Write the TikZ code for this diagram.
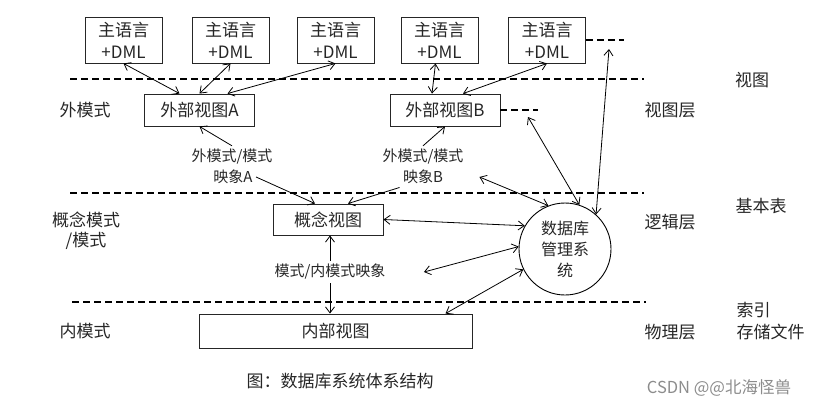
\documentclass[tikz,border=0pt]{standalone}
\usepackage{fontspec}
\setmainfont{Noto Sans CJK SC}
\usetikzlibrary{arrows.meta}

\begin{document}
\begin{tikzpicture}[x=1pt,y=-1pt,>={Straight Barb[length=6pt,width=9pt]},font=\fontsize{17}{22}\selectfont,
  text=black!85,
  main node/.style={rectangle,draw=black!85,line width=0.9pt,inner sep=0pt,align=center},
  host node/.style={main node,minimum width=77pt,minimum height=46pt},
  view node/.style={main node,minimum width=110pt,minimum height=32pt},
  map node/.style={font=\fontsize{15}{18}\selectfont},
  layer line/.style={line width=2.2pt,dash pattern=on 7pt off 4pt},
  link/.style={<->,line width=0.8pt}]
    \useasboundingbox (0,0) rectangle (816,408);

    % separators
    \draw[layer line] (70,79) -- (644,79);
    \draw[layer line] (70,193) -- (644,193);
    \draw[layer line] (72,302) -- (646,302);

    \node[host node] (h1) at (123.5,40) {主语言\\+DML};
    \node[host node] (h2) at (230.5,40) {主语言\\+DML};
    \node[host node] (h3) at (335.5,40) {主语言\\+DML};
    \node[host node] (h4) at (439.5,40) {主语言\\+DML};
    \node[host node] (h5) at (547,40) {主语言\\+DML};
    \node[view node] (ea) at (199.5,110) {外部视图A};
    \node[view node] (eb) at (445,110) {外部视图B};
    \node[view node,minimum height=31pt] (cv) at (328,219.5) {概念视图};
    \node[main node,minimum width=273pt,minimum height=34pt] (iv) at (335.5,331) {内部视图};
    \node[circle,draw,line width=0.9pt,minimum size=92pt,inner sep=0pt,align=center,
      font=\fontsize{16}{21}\selectfont] (db) at (565,249) {数据库\\管理系\\统};

    \node[map node] (ma) at (232,157) {外模式/模式};
    \node[map node] (ma2) at (233,177) {映象A};
    \node[map node] (mb) at (423,157) {外模式/模式};
    \node[map node] (mb2) at (423,177) {映象B};
    \node[map node] (mi) at (330,272) {模式/内模式映象};

    \coordinate (d5) at (624,40);
    \coordinate (db2) at (538,110);
    \coordinate (ta) at (609,49);
    \coordinate (tb) at (528,117);
    \draw[layer line,line width=1.8pt] (h5.east) -- (d5);
    \draw[layer line,line width=1.8pt] (eb.east) -- (db2);

    \draw[link] (h1.south) -- ([xshift=-20pt]ea.north);
    \draw[link] (h2.south) -- (ea.north);
    \draw[link] (h3.south) -- ([xshift=28pt]ea.north);
    \draw[link] ([xshift=-4pt]h4.south) -- ([xshift=-13pt]eb.north);
    \draw[link] (h5.south) -- ([xshift=18pt]eb.north);
    \draw[->,line width=0.8pt] (ma.north) -- (ea.south);
    \draw[->,line width=0.8pt] (ma2.east) -- ([xshift=-13pt]cv.north);
    \draw[->,line width=0.8pt] (mb.north) -- (eb.south);
    \draw[->,line width=0.8pt] (mb2.south west) -- ([xshift=20pt]cv.north);
    \draw[->,line width=0.8pt] (mi.north) -- (mi.north |- cv.south);
    \draw[->,line width=0.8pt] (mi.south) -- (mi.south |- iv.north);
    \draw[link] (cv.east) -- (db.150);
    \draw[link] ([xshift=35pt]mi.east) -- (db.177);
    \draw[link] ([xshift=110pt]iv.north) -- (db.206);
    \draw[link] ([xshift=33pt]mb2.east) -- (db.111);
    \draw[link] (tb) -- (db.72);
    \draw[link] (ta) -- (db.48);

    % layer names
    \node (lo) at (85,110) {外模式};
    \node[align=center,font=\fontsize{17}{20}\selectfont] (lc) at (86,231) {概念模式\\/模式};
    \node (li) at (85,331) {内模式};
    \node (r1) at (752,80) {视图};
    \node (r2) at (670,110) {视图层};
    \node (r3) at (761,206) {基本表};
    \node (r4) at (670,222) {逻辑层};
    \node[anchor=west] (r5) at (733,310) {索引};
    \node[anchor=west] (r6) at (733,332) {存储文件};
    \node (r7) at (670,332) {物理层};

    \node (cap) at (340,381) {图：数据库系统体系结构};
    \node[text=black!45,font=\fontsize{16.5}{20}\selectfont] (wm) at (719,388) {CSDN @@北海怪兽};
  \end{tikzpicture}
\end{document}
